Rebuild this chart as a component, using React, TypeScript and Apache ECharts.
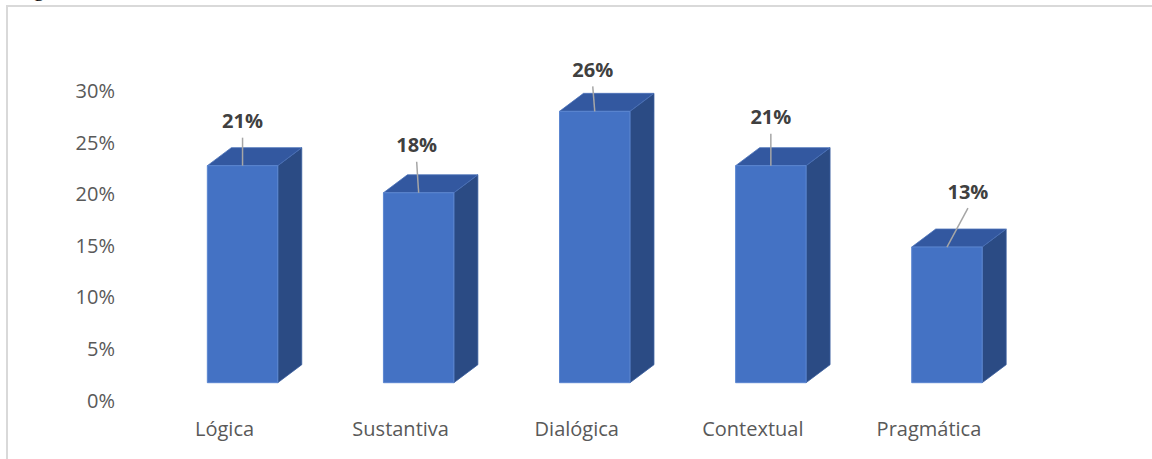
import React, { useEffect, useRef } from "react";
import * as echarts from "echarts";

const categories = ["Lógica", "Sustantiva", "Dialógica", "Contextual", "Pragmática"];
const values = [21.05, 18.42, 26.32, 21.05, 13.16];
const yTicks = { min: 0, max: 30, interval: 5 };
const caption = "Figura";

export default function App() {
  const ref = useRef<HTMLDivElement>(null);
  useEffect(() => {
    document.body.style.margin = "0";
    const chart = echarts.init(ref.current!, null, { renderer: "svg" });
    const labelDX = [0, -2, -2, 0, 21];
    const labelDY = [-45, -48, -42, -49, -56];
    const depthX = 24;
    const depthY = 18;
    const floorLift = 17.3;
    const shiftX = 18;
    chart.setOption({
      animation: false,
      backgroundColor: "#ffffff",
      textStyle: { fontFamily: '"Open Sans", sans-serif' },
      grid: { left: 136.5, right: 135, top: 90.7, bottom: 59, containLabel: false },
      xAxis: {
        type: "category",
        data: categories,
        axisLine: { show: false },
        axisTick: { show: false },
        axisLabel: { color: "#595959", fontSize: 20, margin: 18, fontFamily: '"Open Sans", sans-serif' },
        splitLine: { show: false },
      },
      yAxis: {
        type: "value",
        min: yTicks.min,
        max: yTicks.max,
        interval: yTicks.interval,
        axisLine: { show: false },
        axisTick: { show: false },
        splitLine: { show: false },
        axisLabel: {
          color: "#595959",
          fontSize: 20,
          margin: 21.5,
          formatter: "{value}%",
          fontFamily: '"Open Sans", sans-serif',
        },
      },
      graphic: [
        {
          type: "rect",
          shape: { x: 7, y: 6, width: 1200, height: 500 },
          style: { fill: "none", stroke: "#D9D9D9", lineWidth: 2 },
          z: 0,
        },
        {
          type: "text",
          x: 15,
          y: -12,
          style: {
            text: caption,
            font: '22px "Liberation Serif", serif',
            fill: "#000000",
            verticalAlign: "middle",
            align: "left",
          },
        },
      ],
      series: [
        {
          type: "custom",
          data: values.map((v, i) => [i, v]),
          encode: { x: 0, y: 1 },
          renderItem: (params: any, api: any) => {
            const i = params.dataIndex;
            const v = api.value(1);
            const base = api.coord([api.value(0), 0]);
            const top = api.coord([api.value(0), v]);
            const band = api.size([1, 0])[0];
            const w = band * 0.4;
            const cx = base[0] + shiftX;
            const y0 = base[1] - floorLift;
            const y1 = top[1] - floorLift;
            const l = cx - w / 2;
            const r = cx + w / 2;
            const lx = cx + labelDX[i];
            const ly = y1 + labelDY[i];
            return {
              type: "group",
              children: [
                {
                  type: "polygon",
                  shape: { points: [[r, y1], [r + depthX, y1 - depthY], [r + depthX, y0 - depthY], [r, y0]] },
                  style: { fill: "#2B4B84", stroke: "#3A5E9E", lineWidth: 0.8 },
                },
                {
                  type: "polygon",
                  shape: { points: [[l, y1], [l + depthX, y1 - depthY], [r + depthX, y1 - depthY], [r, y1]] },
                  style: { fill: "#3358A0", stroke: "#4A71B8", lineWidth: 0.8 },
                },
                {
                  type: "polygon",
                  shape: { points: [[l, y1], [r, y1], [r, y0], [l, y0]] },
                  style: { fill: "#4472C4", stroke: "#5B86D0", lineWidth: 1 },
                },
                {
                  type: "line",
                  shape: { x1: lx, y1: ly + 17, x2: cx, y2: y1 },
                  style: { stroke: "#A6A6A6", lineWidth: 1.5 },
                },
                {
                  type: "text",
                  style: {
                    x: lx,
                    y: ly,
                    text: `${Math.round(v)}%`,
                    fill: "#404040",
                    font: 'bold 20px "Open Sans", sans-serif',
                    align: "center",
                    verticalAlign: "middle",
                  },
                },
              ],
            };
          },
        },
      ],
    });
    return () => chart.dispose();
  }, []);
  return <div ref={ref} style={{ width: 1152, height: 459 }} />;
}
